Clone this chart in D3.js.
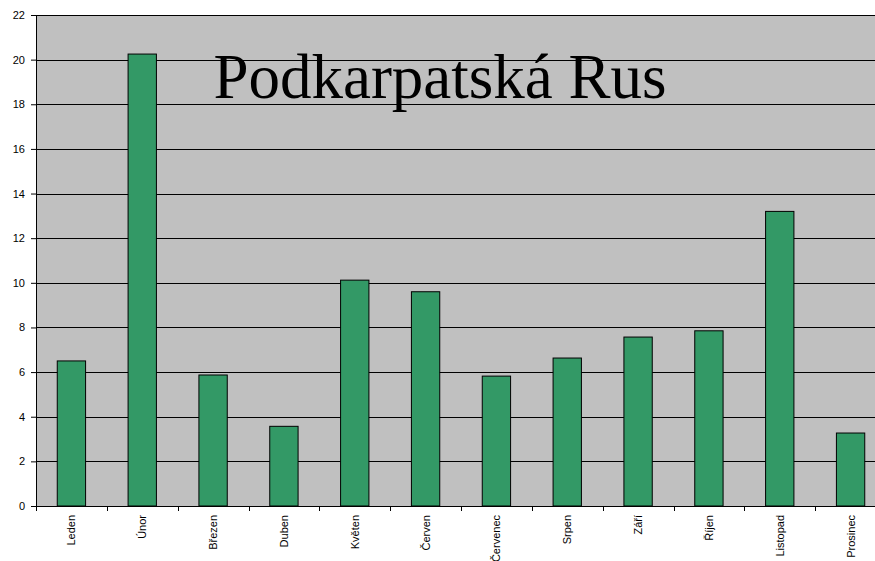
<!DOCTYPE html>
<meta charset="utf-8">
<style>
body { margin: 0; background: #fff; }
.bar { fill: #339966; stroke: #000; stroke-width: 1; }
text { font-family: "Liberation Sans", Arial, sans-serif; }
</style>
<body>
<script src="https://cdn.jsdelivr.net/npm/d3@7"></script>
<script>

var months = ["Leden", "Únor", "Březen", "Duben", "Květen", "Červen",
              "Červenec", "Srpen", "Září", "Říjen", "Listopad", "Prosinec"];
var values = [6.5, 20.25, 5.87, 3.57, 10.12, 9.6, 5.82, 6.63, 7.57, 7.85, 13.2, 3.27];
var yTicks = [0, 2, 4, 6, 8, 10, 12, 14, 16, 18, 20, 22];
var title = "Podkarpatská Rus";

var margin = {top: 15, left: 36},
    width = 850,
    height = 491;

var svg = d3.select("body").append("svg")
    .attr("width", 875)
    .attr("height", 561);

var g = svg.append("g")
    .attr("transform", "translate(" + margin.left + "," + margin.top + ")");

var x = d3.scaleBand()
    .domain(months)
    .range([0, width])
    .paddingInner(0.6)
    .paddingOuter(0.3);
var step = x.step();

var y = d3.scaleLinear()
    .domain([0, 22])
    .range([height, 0]);

// plot background
g.append("rect")
    .attr("width", width)
    .attr("height", height)
    .attr("fill", "#c0c0c0");

// gridlines
g.selectAll(".grid")
    .data(yTicks.slice(1))
  .enter().append("line")
    .attr("x1", 0)
    .attr("x2", width)
    .attr("y1", function(d) { return Math.round(y(d)) + 0.5; })
    .attr("y2", function(d) { return Math.round(y(d)) + 0.5; })
    .attr("stroke", "#000")
    .attr("stroke-width", 1);

g.selectAll(".bar")
    .data(values)
  .enter().append("rect")
    .attr("class", "bar")
    .attr("x", function(d, i) { return x(months[i]); })
    .attr("width", x.bandwidth())
    .attr("y", function(d) { return y(d); })
    .attr("height", function(d) { return height - y(d); });

// y axis
var yAxis = g.append("g")
    .call(d3.axisLeft(y).tickValues(yTicks).tickSize(5).tickPadding(6));
yAxis.select(".domain").attr("stroke", "#000");
yAxis.selectAll("text").style("font-size", "11px").attr("fill", "#000");

// x axis: ticks on band boundaries, rotated labels
var xAxis = g.append("g")
    .attr("transform", "translate(0," + height + ")");
xAxis.append("line")
    .attr("x1", 0).attr("x2", width)
    .attr("y1", 0.5).attr("y2", 0.5)
    .attr("stroke", "#000");
xAxis.selectAll(".tick")
    .data(months)
  .enter().append("line")
    .attr("x1", function(d) { return Math.round(x(d) - step * 0.3) + 0.5; })
    .attr("x2", function(d) { return Math.round(x(d) - step * 0.3) + 0.5; })
    .attr("y1", 0)
    .attr("y2", 5)
    .attr("stroke", "#000");
xAxis.selectAll(".lbl")
    .data(months)
  .enter().append("text")
    .attr("transform", function(d) {
      return "translate(" + (x(d) + x.bandwidth() / 2 + 4) + ",9) rotate(-90)";
    })
    .attr("text-anchor", "end")
    .style("font-size", "11px")
    .text(function(d) { return d; });

svg.append("text")
    .attr("x", 440)
    .attr("y", 98)
    .attr("text-anchor", "middle")
    .style("font-family", "'Liberation Serif', 'Times New Roman', serif")
    .style("font-size", "63px")
    .text(title);

</script>
</body>
